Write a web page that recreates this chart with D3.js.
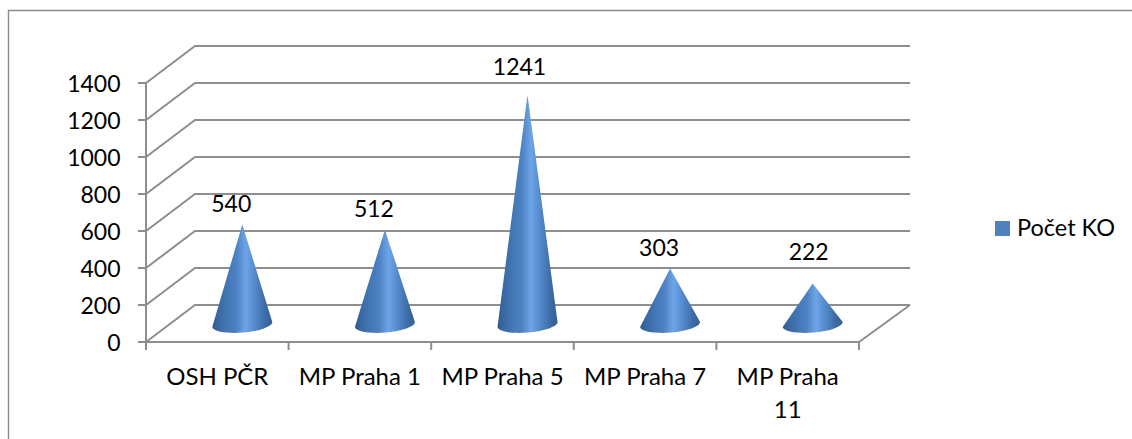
<!DOCTYPE html>
<html><head><meta charset="utf-8">
<script src="https://cdn.jsdelivr.net/npm/d3@7"></script>
<style>html,body{margin:0;padding:0;background:#fff}svg{display:block}text{font-family:Lato,"Open Sans",sans-serif;fill:#000}</style>
</head><body><svg id="c" width="1132" height="439"></svg>
<script>
const categories = ["OSH PČR","MP Praha 1","MP Praha 5","MP Praha 7","MP Praha 11"];
const values = [540,512,1241,303,222];
const seriesName = "Počet KO";
const yTicks = [0,200,400,600,800,1000,1200,1400];
// hand-placed data label nudges, as in the original
const labelShiftX = [-11,-11,-8,-11,-4];
const labelShiftY = [13,13,20,12,23];

const svg = d3.select("#c");
const x = d3.scaleBand().domain(categories).range([146,859]);
const y = d3.scaleLinear().domain([0,1400]).range([342,83]);
const dx = 49, dy = -37;
const fsNum = 23, fsCat = 24;
const grid = "#8e8e8e";

const defs = svg.append("defs");
const g = defs.append("linearGradient").attr("id","cone");
[[0,"#2f5b90"],[.12,"#3b6ba6"],[.4,"#4c82c3"],[.56,"#6ea5e8"],[.68,"#588fd2"],[.88,"#3d6ca6"],[1,"#355f94"]]
 .forEach(s=>g.append("stop").attr("offset",s[0]).attr("stop-color",s[1]));

// outer frame
svg.append("path").attr("d","M8.5,439V10.5H1132").attr("fill","none").attr("stroke","#8a8a8a").attr("stroke-width",1.4);

const line = d3.line();
const stroke = p => svg.append("path").attr("d",line(p)).attr("fill","none").attr("stroke",grid).attr("stroke-width",2);
const [x0,x1] = x.range();
// gridlines with side wall
yTicks.forEach(t=>stroke([[x0-8,y(t)],[x0,y(t)],[x0+dx,y(t)+dy],[x1+dx+2,y(t)+dy]]));
// floor
stroke([[x0,y(0)],[x1,y(0)],[x1+dx+2,y(0)+dy]]);
// axis and ticks
stroke([[x0,y(1400)],[x0,y(0)+8]]);
categories.forEach(c=>stroke([[x(c)+x.bandwidth(),y(0)],[x(c)+x.bandwidth(),y(0)+8]]));
// y labels
yTicks.forEach(t=>svg.append("text").attr("x",120.5).attr("y",y(t)+9).attr("text-anchor","end").attr("font-size",fsNum).text(t));

// cones
const rx=30, ry=8, tilt=2.5;
categories.forEach((c,i)=>{
  const cx=x(c)+x.bandwidth()/2+dx/2+0.5, by=y(0)+dy/2+1, ty=y(values[i])+dy/2+1;
  svg.append("path").attr("fill","url(#cone)")
    .attr("d",`M${cx},${ty}L${cx+rx},${by-tilt}A${rx},${ry} -4.8 0 1 ${cx-rx},${by+tilt}Z`);
  svg.append("text").attr("x",cx+labelShiftX[i]).attr("y",ty-labelShiftY[i]).attr("text-anchor","middle").attr("font-size",fsNum).text(values[i]);
});

// x labels
categories.forEach(c=>{
  const cx=x(c)+x.bandwidth()/2;
  const lines = c==="MP Praha 11" ? ["MP Praha","11"] : [c];
  lines.forEach((l,j)=>svg.append("text").attr("x",cx).attr("y",385+j*33).attr("text-anchor","middle").attr("font-size",fsCat).text(l));
});

// legend
svg.append("rect").attr("x",995).attr("y",221).attr("width",15).attr("height",15).attr("fill","#4f81bd");
svg.append("text").attr("x",1017).attr("y",236).attr("font-size",fsCat-0.5).text(seriesName);
</script></body></html>
